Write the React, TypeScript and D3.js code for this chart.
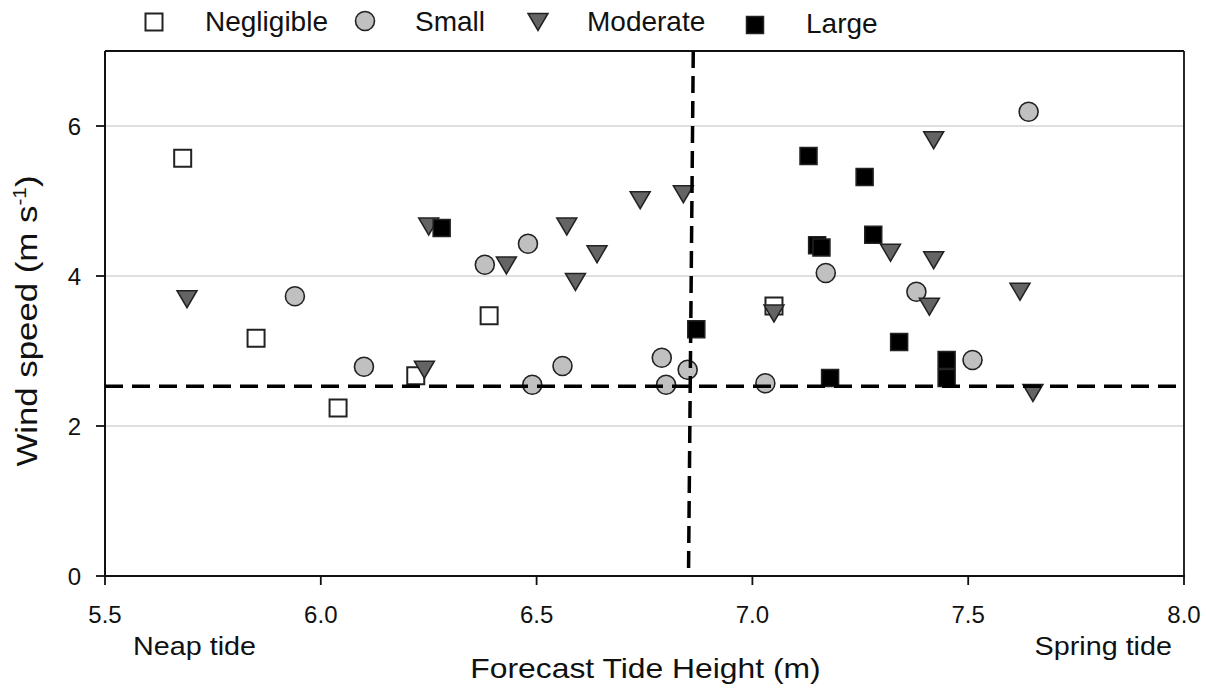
import React from 'react';
import * as d3 from 'd3';

// values
const negligibleX = [5.68, 5.85, 6.04, 6.22, 6.39, 7.05];
const negligibleY = [5.57, 3.17, 2.24, 2.67, 3.47, 3.6];

const smallX = [5.94, 6.1, 6.38, 6.48, 6.49, 6.56, 6.79, 6.8, 6.85, 7.03, 7.17, 7.38, 7.51, 7.64];
const smallY = [3.73, 2.79, 4.15, 4.43, 2.55, 2.8, 2.91, 2.55, 2.75, 2.57, 4.04, 3.79, 2.88, 6.19];

const moderateX = [5.69, 6.24, 6.25, 6.43, 6.57, 6.59, 6.64, 6.74, 6.84, 7.05, 7.32, 7.41, 7.42, 7.42, 7.62, 7.65];
const moderateY = [3.69, 2.75, 4.66, 4.14, 4.66, 3.92, 4.29, 5.01, 5.09, 3.5, 4.31, 3.59, 4.21, 5.81, 3.79, 2.44];

const largeX = [6.28, 6.87, 7.13, 7.15, 7.16, 7.18, 7.26, 7.28, 7.34, 7.45, 7.45];
const largeY = [4.64, 3.29, 5.6, 4.41, 4.38, 2.64, 5.32, 4.55, 3.12, 2.88, 2.64];

const xTicks = [5.5, 6.0, 6.5, 7.0, 7.5, 8.0];
const yTicks = [0, 2, 4, 6];
const gridValues = [2, 4, 6];

// threshold lines (slightly hand drawn in the original)
const windThreshold = [[5.5, 2.53], [7.99, 2.53]];
const tideThreshold = [[6.863, 7], [6.852, 0.05]];

const font = '"Liberation Sans", Arial, sans-serif';

const left = 105, right = 1184, top = 51, bottom = 576;

function Square({ cx, cy, fill }) {
  return <rect x={cx - 8.5} y={cy - 8.5} width={17} height={17} fill={fill} stroke="#222" strokeWidth={fill === '#fff' ? 2 : 1.5} />;
}
function Circle({ cx, cy }) {
  return <circle cx={cx} cy={cy} r={9.5} fill="#c0c0c0" stroke="#222" strokeWidth={1.6} />;
}
function Tri({ cx, cy }) {
  return <path d={`M${cx - 10},${cy - 8.5}L${cx + 10},${cy - 8.5}L${cx},${cy + 8.5}Z`} fill="#646464" stroke="#222" strokeWidth={1.5} />;
}

export default function App() {
  const x = d3.scaleLinear().domain([5.5, 8.0]).range([left, right]);
  const y = d3.scaleLinear().domain([0, 7]).range([bottom, top]);
  const line = d3.line().x(d => x(d[0])).y(d => y(d[1]));
  const fmt = d3.format('.1f');

  return (
    <div style={{ position: 'absolute', left: 0, top: 0 }}>
      <svg width={1206} height={689} style={{ display: 'block', background: '#fff' }} fontFamily={font}>
        {gridValues.map(v => (
          <line key={v} x1={left} x2={right} y1={y(v)} y2={y(v)} stroke="#d4d4d4" strokeWidth={1.5} />
        ))}

        {/* frame */}
        <line x1={left} x2={right} y1={top} y2={top} stroke="#111" strokeWidth={1.8} />
        <line x1={right} x2={right} y1={top} y2={bottom} stroke="#111" strokeWidth={1.8} />
        <line x1={left} x2={left} y1={top} y2={bottom + 1} stroke="#111" strokeWidth={2} />
        <line x1={left - 1} x2={right + 1} y1={bottom} y2={bottom} stroke="#111" strokeWidth={2} />

        {xTicks.map(t => (
          <g key={t}>
            <line x1={x(t)} x2={x(t)} y1={bottom} y2={bottom + 9} stroke="#111" strokeWidth={1.8} />
            <text x={x(t)} y={623} textAnchor="middle" fontSize={24} fill="#111">{fmt(t)}</text>
          </g>
        ))}
        {yTicks.map(t => (
          <g key={t}>
            <line x1={left - 9} x2={left} y1={y(t)} y2={y(t)} stroke="#111" strokeWidth={1.8} />
            <text x={81} y={y(t) + 8.5} textAnchor="end" fontSize={24} fill="#111">{t}</text>
          </g>
        ))}

        {negligibleX.map((v, i) => <Square key={'n' + i} cx={x(v)} cy={y(negligibleY[i])} fill="#fff" />)}
        {smallX.map((v, i) => <Circle key={'s' + i} cx={x(v)} cy={y(smallY[i])} />)}
        {moderateX.map((v, i) => <Tri key={'m' + i} cx={x(v)} cy={y(moderateY[i])} />)}
        {largeX.map((v, i) => <Square key={'l' + i} cx={x(v)} cy={y(largeY[i])} fill="#000" />)}

        <path d={line(windThreshold)} fill="none" stroke="#000" strokeWidth={3.5} strokeDasharray="18,9" />
        <path d={line(tideThreshold)} fill="none" stroke="#000" strokeWidth={3.5} strokeDasharray="17,8" />

        {/* legend */}
        <Square cx={154} cy={22} fill="#fff" />
        <text x={205} y={31} fontSize={28} fill="#111">Negligible</text>
        <Circle cx={365} cy={21} />
        <text x={415} y={31} fontSize={28} fill="#111">Small</text>
        <Tri cx={538} cy={22} />
        <text x={587} y={31} fontSize={28} fill="#111">Moderate</text>
        <Square cx={755} cy={25} fill="#000" />
        <text x={806} y={33} fontSize={28} fill="#111">Large</text>

        {/* axis titles */}
        <text transform="translate(645.5,678) scale(1.18,1)" textAnchor="middle" fontSize={27} fill="#111">Forecast Tide Height (m)</text>
        <text transform="translate(37,321) rotate(-90) scale(1.16,1)" textAnchor="middle" fontSize={30} fill="#111">
          Wind speed (m s<tspan dy={-11} fontSize={18}>-1</tspan><tspan dy={11}>)</tspan>
        </text>
        <text transform="translate(133,655) scale(1.15,1)" fontSize={25} fill="#111">Neap tide</text>
        <text transform="translate(1172,655) scale(1.15,1)" textAnchor="end" fontSize={25} fill="#111">Spring tide</text>
      </svg>
    </div>
  );
}
